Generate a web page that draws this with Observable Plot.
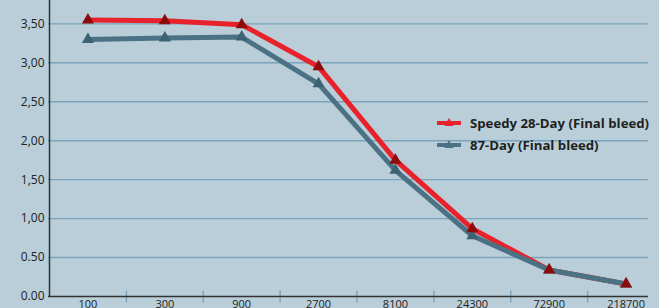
<!DOCTYPE html>
<html><head><meta charset="utf-8">
<script src="https://cdn.jsdelivr.net/npm/d3@7"></script>
<script src="https://cdn.jsdelivr.net/npm/@observablehq/plot@0.6"></script>
<style>
html,body{margin:0;padding:0;background:#b9ced8;overflow:hidden}
#wrap{position:relative;width:659px;height:308px}
#legend{position:absolute;left:437px;top:112px;font-family:"Open Sans",sans-serif;font-weight:bold;font-size:13.2px;color:#1f1f1f;line-height:22px}
#legend .row{display:flex;align-items:center;white-space:nowrap}
#legend svg{margin-right:9px}
</style></head>
<body><div id="wrap"><div id="chart"></div><div id="legend"></div></div>
<script>
const doses = ["100","300","900","2700","8100","24300","72900","218700"];
const speedy = [3.55, 3.54, 3.49, 2.95, 1.75, 0.87, 0.34, 0.16];
const day87  = [3.30, 3.32, 3.33, 2.73, 1.62, 0.78, 0.34, 0.16];
const seriesNames = ["Speedy 28-Day (Final bleed)", "87-Day (Final bleed)"];
const yTicks = [0, 0.5, 1, 1.5, 2, 2.5, 3, 3.5];
const yLabels = ["0.00","0.50","1,00","1,50","2,00","2,50","3,00","3,50"];

const lineColors = ["#e8222b", "#4a7284"];
const markColors = ["#8e0b0b", "#3b6374"];

const rows = (vals) => vals.map((v, i) => ({i, v}));
const dS = rows(speedy), dD = rows(day87);
const bounds = doses.slice(1).map((_, i) => i + 0.5);

const chart = Plot.plot({
  width: 659, height: 308,
  marginLeft: 48, marginRight: 11, marginTop: 0, marginBottom: 12,
  style: {background: "#b9ced8", fontFamily: "Open Sans, sans-serif", fontSize: "12px", color: "#222", overflow: "hidden"},
  x: {domain: [-0.5, 7.5], range: [49, 664]},
  y: {domain: [0, 3.8]},
  marks: [
    Plot.ruleY(yTicks.slice(1), {stroke: "#7ba3bc", strokeWidth: 1.4}),
    Plot.axisY({ticks: yTicks, tickFormat: d => yLabels[Math.round(d * 2)], tickSize: 0, tickPadding: 4, fontSize: 12, label: null}),
    Plot.axisX({ticks: d3.range(doses.length), tickFormat: i => doses[i], tickSize: 0, tickPadding: 4, fontSize: 11, label: null}),
    Plot.ruleX(bounds, {y1: -0.08, y2: 0.07, stroke: "#7ba3bc", strokeWidth: 1.4}),
    Plot.ruleX([-0.5], {y1: 0, y2: 3.8, stroke: "#333", strokeWidth: 1.5}),
    Plot.ruleY([0], {stroke: "#333", strokeWidth: 1.5}),
    Plot.line(dS, {x: "i", y: "v", stroke: lineColors[0], strokeWidth: 5}),
    Plot.line(dD, {x: "i", y: "v", stroke: lineColors[1], strokeWidth: 5}),
    Plot.dot(dD, {x: "i", y: "v", symbol: "triangle", r: 4.5, fill: markColors[1]}),
    Plot.dot(dS, {x: "i", y: "v", symbol: "triangle", r: 4.5, fill: markColors[0]})
  ]
});
document.getElementById("chart").append(chart);

const leg = document.getElementById("legend");
seriesNames.forEach((name, k) => {
  const row = document.createElement("div");
  row.className = "row";
  row.innerHTML = `<svg width="24" height="12"><line x1="0" y1="6" x2="24" y2="6" stroke="${lineColors[k]}" stroke-width="4"/><path d="M12,1 L16.5,9 L7.5,9 Z" fill="${lineColors[k]}"/></svg>`;
  const span = document.createElement("span");
  span.textContent = name;
  row.append(span);
  leg.append(row);
});
</script></body></html>
